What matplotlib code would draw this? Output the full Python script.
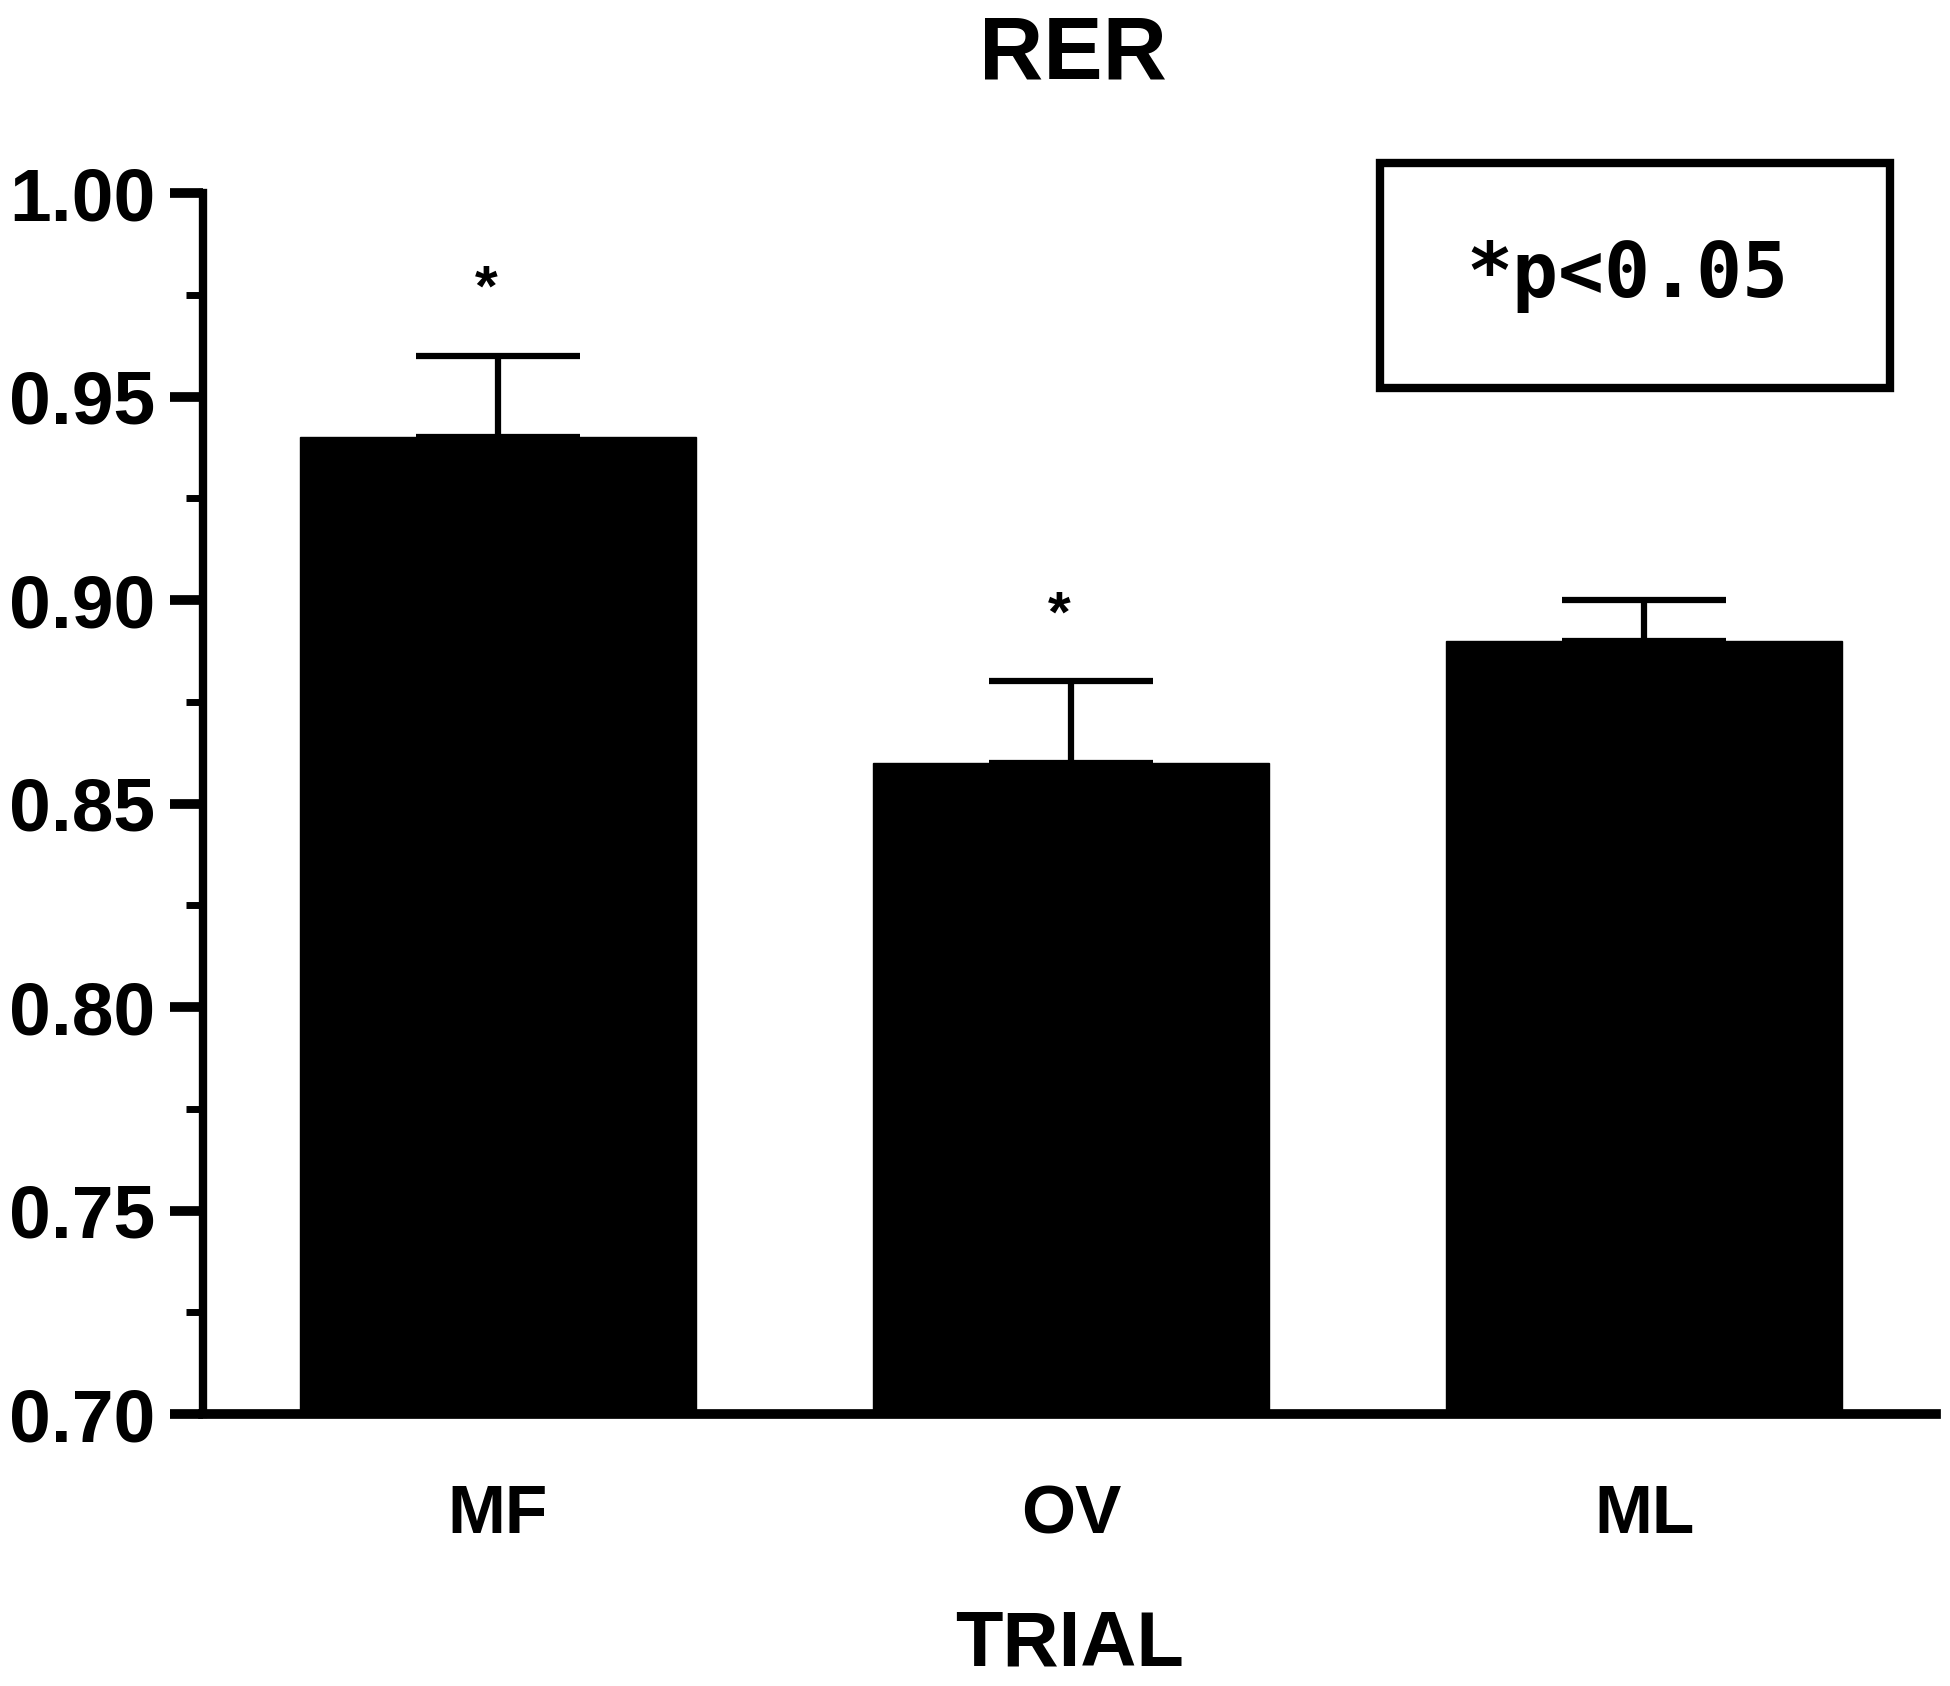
import matplotlib
matplotlib.use("Agg")
import matplotlib.pyplot as plt
from matplotlib.ticker import MultipleLocator
from matplotlib.patches import Rectangle

# data
trials = ["MF", "OV", "ML"]
rer_mean = [0.94, 0.86, 0.89]
rer_err = [0.02, 0.02, 0.01]
signif = [True, True, False]
y_ticks = [0.70, 0.75, 0.80, 0.85, 0.90, 0.95, 1.00]

plt.rcParams['font.family'] = ['Liberation Sans', 'DejaVu Sans']
plt.rcParams['font.weight'] = 'bold'

fig = plt.figure(figsize=(19.5, 16.86), dpi=100)
ax = fig.add_axes([0.104, 0.1613, 0.889, 0.7242])

x = list(range(len(trials)))
ax.bar(x, rer_mean, width=0.69, bottom=0, color='black', edgecolor='black', zorder=2)
ax.errorbar(x, rer_mean, yerr=[[0] * 3, rer_err], fmt='none', ecolor='black',
            elinewidth=4.5, capsize=59, capthick=4.5, zorder=1)

for xi, m, e, s in zip(x, rer_mean, rer_err, signif):
    if s:
        ax.text(xi - 0.02, m + e + 0.016, '*', ha='center', va='center',
                fontsize=42, fontweight='bold')

ax.set_ylim(0.70, 1.00)
ax.set_xlim(-0.515, 2.51)
ax.set_yticks(y_ticks)
ax.set_yticklabels(["%.2f" % v for v in y_ticks], fontsize=54, fontweight='bold')
ax.yaxis.set_minor_locator(MultipleLocator(0.025))
ax.tick_params(axis='y', which='major', length=24, width=7, pad=10)
ax.tick_params(axis='y', which='minor', length=12, width=5)
ax.set_xticks(x)
ax.set_xticklabels(trials, fontsize=50, fontweight='bold')
ax.tick_params(axis='x', length=0, pad=50)

for sp in ['top', 'right']:
    ax.spines[sp].set_visible(False)
ax.spines['left'].set_linewidth(6)
ax.spines['bottom'].set_linewidth(7)

ax.set_xlabel("TRIAL", fontsize=56, fontweight='bold', labelpad=44)
fig.text(0.550, 0.967, "RER", ha='center', va='center', fontsize=64, fontweight='bold')

# significance key box
ax.add_patch(Rectangle((0.679, 0.840), 0.294, 0.185, transform=ax.transAxes,
                       facecolor='white', edgecolor='black', linewidth=6,
                       clip_on=False, zorder=3))
ax.text(0.822, 0.932, "*p<0.05", transform=ax.transAxes, ha='center', va='center',
        fontsize=55, fontweight='bold', family='DejaVu Sans Mono', zorder=4)

fig.savefig("out.png", dpi=100)
